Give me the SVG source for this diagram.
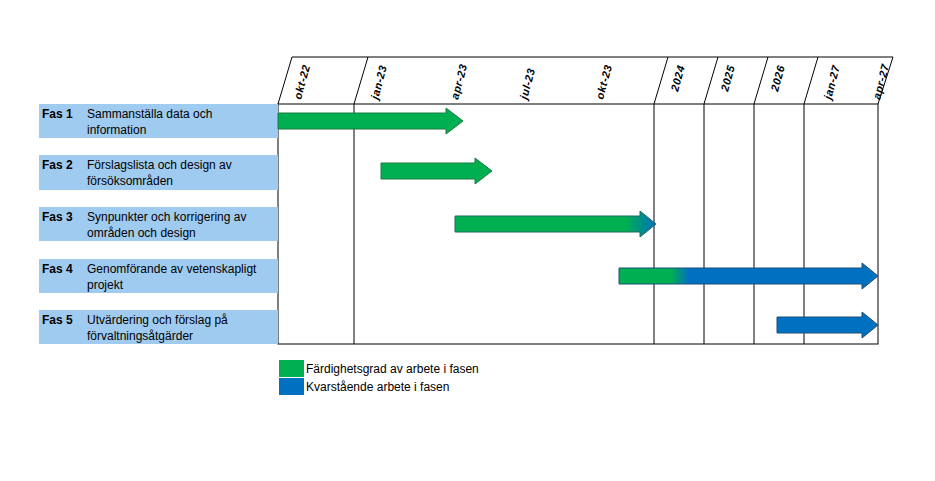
<svg xmlns="http://www.w3.org/2000/svg" width="935" height="481" viewBox="0 0 935 481">
<defs>
<style>
.lbl{fill:#A0CBF0}
.t{font-family:"Liberation Sans",Arial,sans-serif;font-size:12px;fill:#000}
.b{font-weight:bold}
.h{font-family:"Liberation Sans",Arial,sans-serif;font-size:11px;font-weight:bold;font-style:italic;letter-spacing:0.5px}
.g{stroke:#000;stroke-width:1;fill:none}
</style>
<linearGradient id="g3" x1="455" x2="656" gradientUnits="userSpaceOnUse"><stop offset="0.85" stop-color="#00B050"/><stop offset="1" stop-color="#0070C0"/></linearGradient>
<linearGradient id="g4" x1="619" x2="878" gradientUnits="userSpaceOnUse"><stop offset="0.2" stop-color="#00B050"/><stop offset="0.27" stop-color="#0070C0"/></linearGradient>
</defs>
<rect width="935" height="481" fill="#fff"/>
<g id="grid" class="g">
<rect x="278" y="104" width="600" height="240"/>
<path d="M354 104V344M654 104V344M704 104V344M754 104V344M804 104V344"/>
<path d="M278 104L292 57H893L878 104M354 104L368 57M654 104L668 57M704 104L718 57M754 104L768 57M804 104L818 57"/>
</g>
<g id="header">
<text class="h" transform="translate(301,100) rotate(-75)">okt-22</text>
<text class="h" transform="translate(378,100) rotate(-75)">jan-23</text>
<text class="h" transform="translate(458,100) rotate(-75)">apr-23</text>
<text class="h" transform="translate(527,100) rotate(-75)">jul-23</text>
<text class="h" transform="translate(603,100) rotate(-75)">okt-23</text>
<text class="h" transform="translate(678,92) rotate(-75)">2024</text>
<text class="h" transform="translate(728,92) rotate(-75)">2025</text>
<text class="h" transform="translate(778,92) rotate(-75)">2026</text>
<text class="h" transform="translate(831,100) rotate(-75)">jan-27</text>
<text class="h" transform="translate(880,100) rotate(-75)">apr-27</text>
</g>
<g id="fas1"><rect class="lbl" x="39" y="104" width="239" height="34"/><text class="t b" x="42" y="118">Fas 1</text><text class="t" x="87" y="118">Sammanställa data och</text><text class="t" x="87" y="134">information</text></g>
<g id="fas2"><rect class="lbl" x="39" y="155" width="239" height="35"/><text class="t b" x="42" y="169">Fas 2</text><text class="t" x="87" y="169">Förslagslista och design av</text><text class="t" x="87" y="185">försöksområden</text></g>
<g id="fas3"><rect class="lbl" x="39" y="207" width="239" height="34"/><text class="t b" x="42" y="221">Fas 3</text><text class="t" x="87" y="221">Synpunkter och korrigering av</text><text class="t" x="87" y="237">områden och design</text></g>
<g id="fas4"><rect class="lbl" x="39" y="259" width="239" height="34"/><text class="t b" x="42" y="273">Fas 4</text><text class="t" x="87" y="273">Genomförande av vetenskapligt</text><text class="t" x="87" y="289">projekt</text></g>
<g id="fas5"><rect class="lbl" x="39" y="310" width="239" height="34"/><text class="t b" x="42" y="324">Fas 5</text><text class="t" x="87" y="324">Utvärdering och förslag på</text><text class="t" x="87" y="340">förvaltningsåtgärder</text></g>
<g id="arrows" stroke-width="1">
<path d="M278 113H446V108L463 121L446 134V129H278Z" fill="#00B050" stroke="#1E7A45"/>
<path d="M381 163H475V158L492 171L475 184V179H381Z" fill="#00B050" stroke="#1E7A45"/>
<path d="M455 216H640V211L656 224L640 237V232H455Z" fill="url(#g3)" stroke="#1E6A60"/>
<path d="M619 268H862V263L878 276L862 289V284H619Z" fill="url(#g4)" stroke="#1F4E79"/>
<path d="M777 317H862V312L878 325L862 338V333H777Z" fill="#0070C0" stroke="#1F4E79"/>
</g>
<g id="legend">
<rect x="279" y="360" width="25" height="17" fill="#00B050"/>
<rect x="279" y="378" width="25" height="17" fill="#0070C0"/>
<text class="t" x="306" y="373">Färdighetsgrad av arbete i fasen</text>
<text class="t" x="306" y="391">Kvarstående arbete i fasen</text>
</g>
</svg>
